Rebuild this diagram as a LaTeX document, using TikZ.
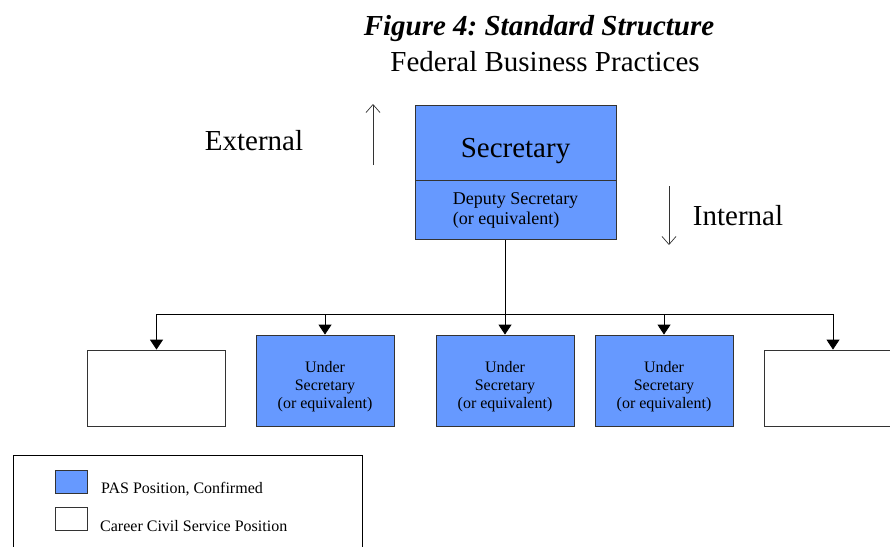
\documentclass[tikz,border=0pt]{standalone}
\usepackage{fontspec}
\setmainfont{Liberation Serif}
\usetikzlibrary{arrows.meta,positioning}
\definecolor{pasblue}{RGB}{102,153,255}
\frenchspacing

\begin{document}
\begin{tikzpicture}[x=1pt,y=-1pt,
    post/.style={draw=black!80, line width=0.8pt, minimum width=138pt, inner sep=0pt},
    pas/.style={post, fill=pasblue, minimum height=91pt, align=center, font=\fontsize{16}{18}\selectfont},
    career/.style={post, fill=white, minimum height=76pt},
    feed/.style={-{Triangle[width=13pt,length=10pt]}, line width=0.8pt},
    trend/.style={-{Straight Barb[width=14pt,length=8pt]}, line width=0.7pt, black!80},
    big/.style={font=\fontsize{29}{34}\selectfont}]
    \useasboundingbox (0,0) rectangle (890,546);

    % heading
    \node[anchor=base, font=\fontsize{29}{34}\selectfont\bfseries\itshape] (title) at (539,35) {Figure 4: Standard Structure};
    \node[anchor=base, big] (subtitle) at (545,71) {Federal Business Practices};

    % top office
    \node[post, fill=pasblue, minimum width=201pt, minimum height=75pt, text height=29pt, text depth=0pt, big] (sec) at (515.5,142.5) {Secretary};
    \node[post, fill=pasblue, minimum width=201pt, minimum height=59pt, below=0pt of sec,
          align=left, font=\fontsize{18}{20}\selectfont] (dep) {Deputy Secretary\\(or equivalent)};

    % external / internal
    \node[anchor=base, big] (ext) at (254,150) {External};
    \node[anchor=base, big] (int) at (738,225) {Internal};
    \coordinate (extlo) at (373,165);
    \coordinate (exthi) at (373,104);
    \coordinate (inthi) at (669,186);
    \coordinate (intlo) at (669,245);
    \draw[trend] (extlo) -- (exthi);
    \draw[trend] (inthi) -- (intlo);

    % under secretaries
    \node[career] (u1) at (156.5,388) {};
    \node[pas] (u2) at (325,380.5) {\rule{0pt}{23pt}Under\\Secretary\\(or equivalent)};
    \node[pas] (u3) at (505,380.5) {\rule{0pt}{23pt}Under\\Secretary\\(or equivalent)};
    \node[pas] (u4) at (664,380.5) {\rule{0pt}{23pt}Under\\Secretary\\(or equivalent)};
    \node[career] (u5) at (833,388) {};

    % connectors
    \coordinate (bus) at (510,314);
    \draw[line width=0.8pt] (dep.south -| u3) -- (bus -| u3);
    \draw[line width=0.8pt] (bus -| u1) -- (bus -| u5);
    \foreach \u in {u1,u2,u3,u4,u5}
        \draw[feed] (bus -| \u) -- (\u.north);

    % legend
    \node[draw, line width=0.8pt, minimum width=349pt, minimum height=120pt, anchor=north west] (legend) at (13,455) {};
    \node[post, fill=pasblue, minimum width=32pt, minimum height=23pt] (keypas) at (71,481.5) {};
    \node[post, fill=white, minimum width=32pt, minimum height=23pt] (keycar) at (71,519) {};
    \node[anchor=base west, inner sep=0pt, font=\fontsize{16}{18}\selectfont] (pastext) at (101,493) {PAS Position, Confirmed};
    \node[anchor=base west, inner sep=0pt, font=\fontsize{16}{18}\selectfont] (cartext) at (100,531) {Career Civil Service Position};
\end{tikzpicture}
\end{document}
